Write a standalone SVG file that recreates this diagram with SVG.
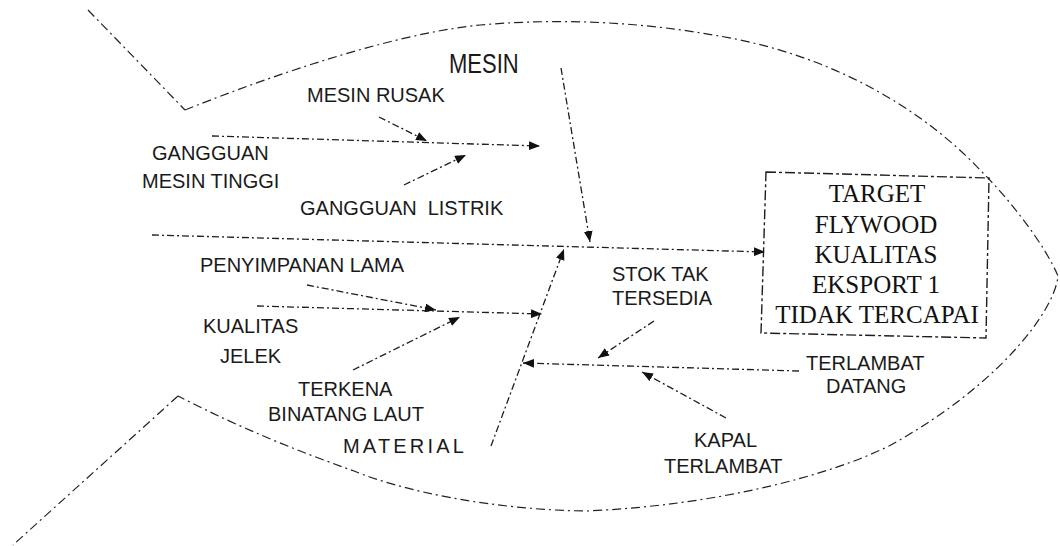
<svg xmlns="http://www.w3.org/2000/svg" width="1060" height="546" viewBox="0 0 1060 546">
<style>
  .bg { fill: #ffffff; }
  .ol { fill: none; stroke: #222; stroke-width: 1.2; stroke-dasharray: 9 4 2 4; }
  .cn { fill: none; stroke: #1e1e1e; stroke-width: 1.3; stroke-dasharray: 7 3 2 3; }
  .bx { fill: none; stroke: #1e1e1e; stroke-width: 1.4; stroke-dasharray: 10 3 3 3; }
  .t { font-family: "Liberation Sans", Arial, sans-serif; font-size: 20px; fill: #1a1a1a; }
  .s { font-family: "Liberation Serif", "Times New Roman", serif; font-size: 25px; fill: #111; text-anchor: middle; }
</style>
<defs>
  <marker id="ah" viewBox="0 0 10 8" refX="10" refY="4" markerWidth="11" markerHeight="9" markerUnits="userSpaceOnUse" orient="auto">
    <path d="M0,0 L10,4 L0,8 Z" fill="#111"/>
  </marker>
</defs>
<rect class="bg" x="0" y="0" width="1060" height="546"/>

<g id="fish-outline">
  <path class="ol" d="M88,10 L185,110"/>
  <path class="ol" d="M185,110 C240,88 380,35 480,25 C560,18 640,22 713,35 C810,50 910,95 983,173 C1010,200 1045,245 1058,276 C1055,310 1000,385 889,446 C830,475 720,505 587,511 C490,510 400,490 354,471 C300,452 240,428 178,396"/>
  <path class="ol" d="M178,396 L13,545"/>
</g>

<g id="connectors">
  <path class="cn" d="M152,235 L765,252" marker-end="url(#ah)"/>
  <path class="cn" d="M561,68 L590,242" marker-end="url(#ah)"/>
  <path class="cn" d="M212,136 L540,146" marker-end="url(#ah)"/>
  <path class="cn" d="M379,117 L427,141" marker-end="url(#ah)"/>
  <path class="cn" d="M404,185 L466,155" marker-end="url(#ah)"/>
  <path class="cn" d="M491,446 L564,249" marker-end="url(#ah)"/>
  <path class="cn" d="M257,306 L542,314" marker-end="url(#ah)"/>
  <path class="cn" d="M307,285 L436,310" marker-end="url(#ah)"/>
  <path class="cn" d="M353,370 L460,317" marker-end="url(#ah)"/>
  <path class="cn" d="M799,371 L523,363" marker-end="url(#ah)"/>
  <path class="cn" d="M654,321 L598,358" marker-end="url(#ah)"/>
  <path class="cn" d="M726,418 L642,372" marker-end="url(#ah)"/>
</g>

<g id="effect">
  <path class="bx" d="M766,172 L989,178 L986,338 L761,333 Z"/>
  <text class="s" x="877" y="202">TARGET</text>
  <text class="s" x="876" y="233">FLYWOOD</text>
  <text class="s" x="876" y="263">KUALITAS</text>
  <text class="s" x="876" y="293">EKSPORT 1</text>
  <text class="s" x="877" y="323">TIDAK TERCAPAI</text>
</g>

<g id="mesin">
  <text class="t" style="font-size:22px" transform="translate(449,73) scale(1,1.25)">MESIN</text>
</g>
<g id="mesin-rusak">
  <text class="t" x="307" y="102">MESIN RUSAK</text>
</g>
<g id="gangguan-mesin-tinggi">
  <text class="t" x="152" y="160">GANGGUAN</text>
  <text class="t" x="142" y="188">MESIN TINGGI</text>
</g>
<g id="gangguan-listrik">
  <text class="t" x="300" y="215">GANGGUAN<tspan dx="11">LISTRIK</tspan></text>
</g>
<g id="penyimpanan-lama">
  <text class="t" x="200" y="272">PENYIMPANAN LAMA</text>
</g>
<g id="kualitas-jelek">
  <text class="t" x="203" y="333">KUALITAS</text>
  <text class="t" x="220" y="363">JELEK</text>
</g>
<g id="terkena-binatang-laut">
  <text class="t" x="298" y="396">TERKENA</text>
  <text class="t" x="268" y="421">BINATANG LAUT</text>
</g>
<g id="material">
  <text class="t" style="letter-spacing:3.2px" x="343" y="453">MATERIAL</text>
</g>
<g id="stok-tak-tersedia">
  <text class="t" x="612" y="281">STOK TAK</text>
  <text class="t" x="612" y="305">TERSEDIA</text>
</g>
<g id="terlambat-datang">
  <text class="t" x="806" y="370">TERLAMBAT</text>
  <text class="t" x="826" y="393">DATANG</text>
</g>
<g id="kapal-terlambat">
  <text class="t" x="694" y="447">KAPAL</text>
  <text class="t" x="664" y="473">TERLAMBAT</text>
</g>
</svg>
